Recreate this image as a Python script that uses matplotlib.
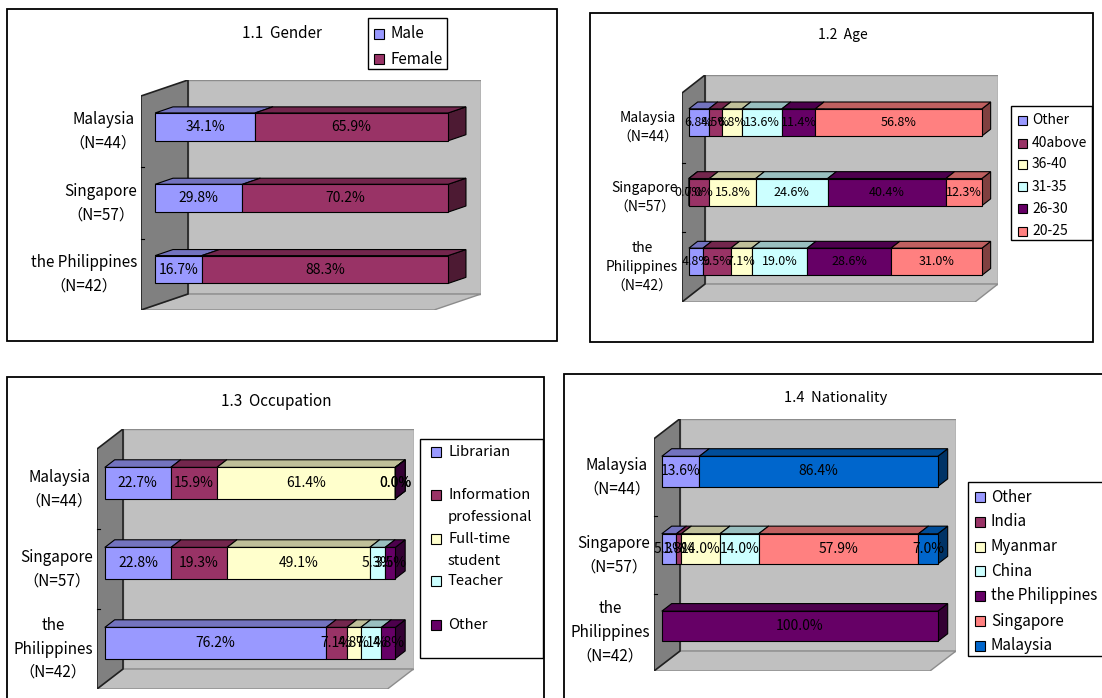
import numpy as np
import matplotlib
matplotlib.use("Agg")
import matplotlib.pyplot as plt
from matplotlib.patches import Polygon, Rectangle
from matplotlib.colors import to_rgb

plt.rcParams['font.family'] = ['Noto Sans CJK JP', 'DejaVu Sans']

W, H = 1102, 698

# ---------------- data ----------------
labels_one_line = ["Malaysia\n（N=44）", "Singapore\n（N=57）", "the Philippines\n（N=42）"]
labels_wrapped = ["Malaysia\n（N=44）", "Singapore\n（N=57）", "the\nPhilippines\n（N=42）"]

gender_series = ["Male", "Female"]
gender_male = [34.1, 29.8, 16.7]
gender_female = [65.9, 70.2, 88.3]

age_series = ["Other", "40above", "36-40", "31-35", "26-30", "20-25"]
age_other = [6.8, 0.0, 4.8]
age_40above = [4.5, 7.0, 9.5]
age_36_40 = [6.8, 15.8, 7.1]
age_31_35 = [13.6, 24.6, 19.0]
age_26_30 = [11.4, 40.4, 28.6]
age_20_25 = [56.8, 12.3, 31.0]

occ_series = ["Librarian", "Information\nprofessional", "Full-time\nstudent", "Teacher", "Other"]
occ_librarian = [22.7, 22.8, 76.2]
occ_info = [15.9, 19.3, 7.1]
occ_fulltime = [61.4, 49.1, 4.8]
occ_teacher = [0.0, 5.3, 7.1]
occ_other = [0.0, 3.5, 4.8]

nat_series = ["Other", "India", "Myanmar", "China", "the Philippines", "Singapore", "Malaysia"]
nat_other = [13.6, 5.3, np.nan]
nat_india = [np.nan, 1.8, np.nan]
nat_myanmar = [np.nan, 14.0, np.nan]
nat_china = [np.nan, 14.0, np.nan]
nat_philippines = [np.nan, np.nan, 100.0]
nat_singapore = [np.nan, 57.9, np.nan]
nat_malaysia = [86.4, 7.0, np.nan]

pal = ["#9999FF", "#993366", "#FFFFCC", "#CCFFFF", "#660066", "#FF8080", "#0066CC"]

fig = plt.figure(figsize=(W / 100, H / 100), dpi=100)

# overlay axes in pixel coordinates for frames, titles and legends
ov = fig.add_axes([0, 0, 1, 1])
ov.set_xlim(0, W)
ov.set_ylim(H, 0)
ov.axis('off')


def frame(x0, y0, x1, y1):
    ov.add_patch(Rectangle((x0, y0), x1 - x0, y1 - y0, fc='white', ec='black', lw=1.3, zorder=0))


def legend(box, entries, mx, tx, msize, fs, line_gap=22):
    x0, y0, x1, y1 = box
    ov.add_patch(Rectangle((x0, y0), x1 - x0, y1 - y0, fc='white', ec='black', lw=1.0, zorder=1))
    for label, y, col in entries:
        ov.add_patch(Rectangle((mx - msize / 2, y - msize / 2), msize, msize,
                               fc=col, ec='black', lw=0.8, zorder=2))
        for k, line in enumerate(label.split("\n")):
            ov.text(tx, y + k * line_gap, line, ha='left', va='center', fontsize=fs, zorder=3)


def panel(geom, series_vals, colors, cat_labels, fs, lfs, lsp):
    FL, FR, FT, FB, DX, DY = geom
    ax = fig.add_axes([FL / W, 1 - FB / H, (FR + DX - FL) / W, (FB - FT + DY) / H])
    n = len(cat_labels)
    sx = 100.0 / (FR - FL)
    sy = n / (FB - FT)
    ax.set_xlim(0, (FR + DX - FL) * sx)
    ax.set_ylim(0, (FB - FT + DY) * sy)
    ax.axis('off')
    ddx, ddy = DX * sx, DY * sy
    # walls
    ax.add_patch(Polygon([(ddx, ddy), (100 + ddx, ddy), (100 + ddx, n + ddy), (ddx, n + ddy)],
                         fc='#C0C0C0', ec='#8C8C8C', lw=1, zorder=1))
    ax.add_patch(Polygon([(0, 0), (100, 0), (100 + ddx, ddy), (ddx, ddy)],
                         fc='#C0C0C0', ec='#8C8C8C', lw=1, zorder=1))
    ax.add_patch(Polygon([(0, 0), (ddx, ddy), (ddx, n + ddy), (0, n)],
                         fc='#808080', ec='#202020', lw=1.2, zorder=1))
    for k in range(1, n):
        ax.plot([0, 3 * sx], [k, k], color='black', lw=0.8, zorder=2, clip_on=False)
    mat = np.array(series_vals, dtype=float)
    tot = np.nansum(mat, axis=0)
    f0, fd, hh = 0.3, 0.38, 0.39
    bx, by = fd * ddx, fd * ddy
    texts = []
    z = 3
    for i in range(n):
        c = n - 1 - i
        yb = c + 0.5 - hh / 2 + f0 * ddy
        yt = yb + hh
        left = f0 * ddx
        for s in range(mat.shape[0]):
            v = mat[s, i]
            if np.isnan(v):
                continue
            w = v / tot[i] * 100
            x0, x1 = left, left + w
            base = np.array(to_rgb(colors[s]))
            ax.add_patch(Polygon([(x1, yb), (x1 + bx, yb + by), (x1 + bx, yt + by), (x1, yt)],
                                 fc=base * 0.5, ec='black', lw=0.8, zorder=z))
            ax.add_patch(Polygon([(x0, yt), (x1, yt), (x1 + bx, yt + by), (x0 + bx, yt + by)],
                                 fc=base * 0.75, ec='black', lw=0.8, zorder=z))
            ax.add_patch(Polygon([(x0, yb), (x1, yb), (x1, yt), (x0, yt)],
                                 fc=base, ec='black', lw=0.8, zorder=z))
            z += 0.01
            texts.append((x0 + w / 2, (yb + yt) / 2, f"{v:.1f}%"))
            left = x1
        ax.text(-4 * sx, c + 0.5, cat_labels[i], ha='right', va='center',
                multialignment='center', fontsize=lfs, linespacing=lsp, zorder=10, clip_on=False)
    for x, y, t in texts:
        ax.text(x, y, t, ha='center', va='center', fontsize=fs, color='black', zorder=20)
    return ax


# ---------------- panel 1: Gender ----------------
frame(7, 9, 557, 341)
ov.text(282, 33, "1.1  Gender", ha='center', va='center', fontsize=11)
panel((141, 434, 96, 310, 47, 16), [gender_male, gender_female], pal[:2],
      labels_one_line, 10, 11, 1.5)
legend((368, 18, 447, 69), [(gender_series[k], [34, 59][k], pal[k]) for k in range(2)],
       378.6, 391, 10, 11)

# ---------------- panel 2: Age ----------------
frame(590, 13, 1093, 342)
ov.text(843, 35, "1.2  Age", ha='center', va='center', fontsize=10)
panel((682, 975, 93, 302, 23, 18),
      [age_other, age_40above, age_36_40, age_31_35, age_26_30, age_20_25], pal[:6],
      labels_wrapped, 9, 10, 1.5)
age_y = [120, 143, 164.5, 186.7, 208.8, 231]
legend((1011, 106, 1092, 240), [(age_series[k], age_y[k], pal[k]) for k in range(6)],
       1022, 1032, 9, 10)

# ---------------- panel 3: Occupation ----------------
frame(7, 377, 544, 710)
ov.text(276, 402, "1.3  Occupation", ha='center', va='center', fontsize=11)
panel((97, 387.5, 449, 689, 26, 20),
      [occ_librarian, occ_info, occ_fulltime, occ_teacher, occ_other], pal[:5],
      labels_wrapped, 10, 11, 1.5)
occ_y = [452, 495, 539, 581, 625]
legend((420, 438.6, 543, 658), [(occ_series[k], occ_y[k], pal[k]) for k in range(5)],
       436.4, 448, 10, 10.6)

# ---------------- panel 4: Nationality ----------------
frame(564, 374, 1110, 710)
ov.text(836, 398, "1.4  Nationality", ha='center', va='center', fontsize=10.6)
panel((654, 930, 438.7, 671, 26, 20),
      [nat_other, nat_india, nat_myanmar, nat_china, nat_philippines, nat_singapore, nat_malaysia],
      pal[:7], labels_wrapped, 10, 11, 1.5)
nat_y = [497, 521.6, 546.5, 571, 596, 621, 646]
legend((968, 481.7, 1110, 655.6), [(nat_series[k], nat_y[k], pal[k]) for k in range(7)],
       979.6, 991, 10, 11)

fig.savefig("out.png", dpi=100)
